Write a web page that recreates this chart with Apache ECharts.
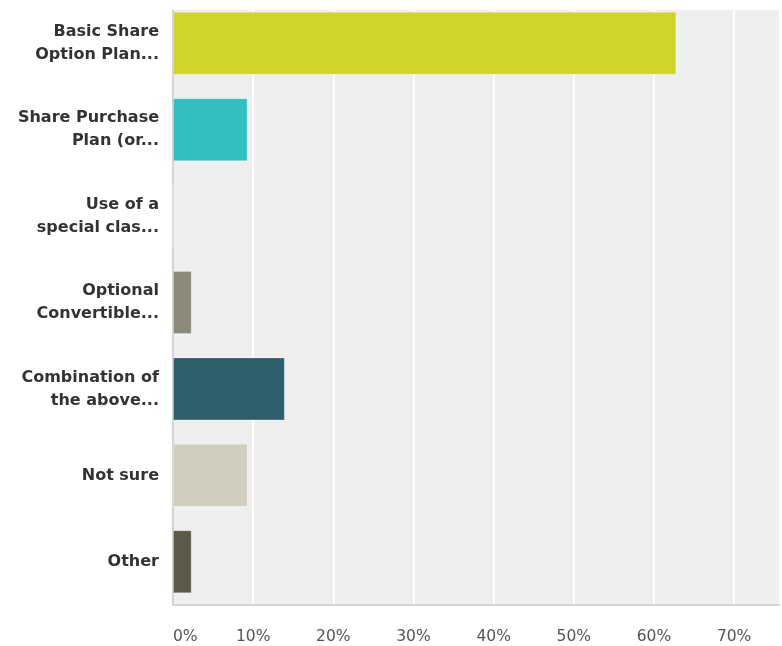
<!DOCTYPE html>
<html>
<head>
<meta charset="utf-8">
<script src="https://cdn.jsdelivr.net/npm/echarts@6/dist/echarts.min.js"></script>
<style>
html,body{margin:0;padding:0;background:#fff;overflow:hidden;}
#chart{width:782px;height:646px;}
</style>
</head>
<body>
<div id="chart"></div>
<script>
const categories = [
  'Basic Share\nOption Plan...',
  'Share Purchase\nPlan (or...',
  'Use of a\nspecial clas...',
  'Optional\nConvertible...',
  'Combination of\nthe above...',
  'Not sure',
  'Other'
];
const values = [62.79, 9.30, 0, 2.33, 13.95, 9.30, 2.33];
const barColors = ['#cfd42a', '#33bec0', '#a0a08e', '#8b8b7a', '#2e5e6a', '#d0cfbf', '#5b5a49'];
const xTicks = [0, 10, 20, 30, 40, 50, 60, 70];

const chart = echarts.init(document.getElementById('chart'));
chart.setOption({
  animation: false,
  backgroundColor: '#ffffff',
  grid: {
    left: 173, width: 609, top: -2, height: 607,
    show: true, backgroundColor: '#efefef', borderWidth: 0
  },
  xAxis: {
    type: 'value', min: 0, max: 75.6, interval: 10,
    axisLine: { show: true, lineStyle: { color: '#d4d4d4', width: 2 } },
    axisTick: { show: false },
    splitLine: { show: true, showMinLine: false, showMaxLine: false, lineStyle: { color: '#ffffff', width: 2 } },
    axisLabel: {
      margin: 24, color: '#555555', fontFamily: 'DejaVu Sans', fontSize: 15.5,
      alignMinLabel: 'left',
      formatter: function (v) { return xTicks.indexOf(v) >= 0 ? v + '%' : ''; }
    }
  },
  yAxis: {
    type: 'category', data: categories, inverse: true,
    axisLine: { show: true, lineStyle: { color: '#d4d4d4', width: 2 } },
    axisTick: { show: false },
    axisLabel: {
      margin: 14, color: '#333333', fontFamily: 'DejaVu Sans', fontWeight: 'bold',
      fontSize: 16, lineHeight: 23, align: 'right'
    }
  },
  graphic: [{
    type: 'rect', shape: { x: 0, y: 0, width: 782, height: 10 },
    style: { fill: '#ffffff' }, z: 100
  }],
  series: [{
    type: 'bar',
    data: values.map((v, i) => ({ value: v, itemStyle: { color: barColors[i] } })),
    barWidth: 63,
    itemStyle: { borderColor: 'rgba(255,255,255,0.25)', borderWidth: 1 }
  }]
});
</script>
</body>
</html>
